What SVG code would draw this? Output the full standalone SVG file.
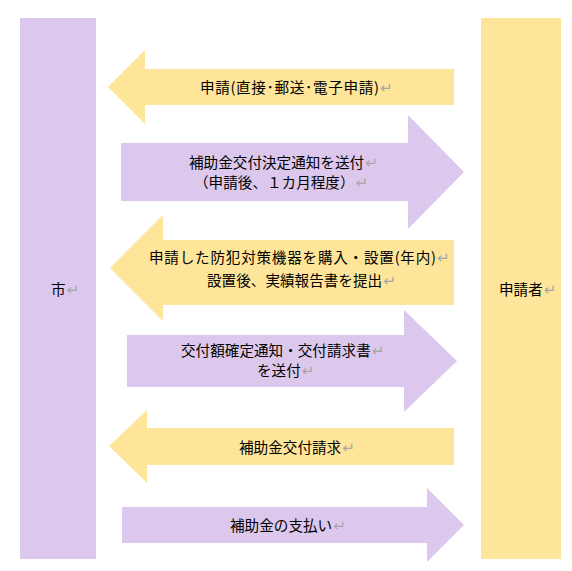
<svg xmlns="http://www.w3.org/2000/svg" width="572" height="571" viewBox="0 0 572 571">
<style>
.bg{fill:#ffffff}
.yel{fill:#fee599}
.pur{fill:#dcc8ec}
.t{font-family:"Noto Sans CJK JP","Noto Sans CJK SC",sans-serif;font-size:14.6px;fill:#000000}
.m{font-family:"DejaVu Sans",sans-serif;font-size:15px;fill:#a6a6a6}
</style>
<rect class="bg" x="0" y="0" width="572" height="571"/>
<g id="city">
<rect class="pur" x="20" y="18" width="76" height="541"/>
<text class="t" x="51" y="295">市<tspan class="m" dx="1">↵</tspan></text>
</g>
<g id="applicant">
<rect class="yel" x="481" y="18" width="80" height="541"/>
<text class="t" x="499" y="295">申請者<tspan class="m" dx="1">↵</tspan></text>
</g>
<g id="connectors">
<g id="arrow1">
<polygon class="yel" points="108,87 145,50 145,69 454,69 454,105 145,105 145,124"/>
<text class="t" x="200" y="92.5" textLength="179" lengthAdjust="spacing">申請(直接･郵送･電子申請)</text>
<text class="m" x="380" y="92.5">↵</text>
</g>
<g id="arrow2">
<polygon class="pur" points="121,143 408,143 408,115 464,172 408,229 408,201 121,201"/>
<text class="t" x="189" y="167.5">補助金交付決定通知を送付<tspan class="m" dx="1">↵</tspan></text>
<text class="t" x="194" y="187.5">（申請後、１カ月程度）<tspan class="m" dx="1">↵</tspan></text>
</g>
<g id="arrow3">
<polygon class="yel" points="110,268 163,215 163,240 454,240 454,305 163,305 163,321"/>
<text class="t" x="149" y="262.5" textLength="287" lengthAdjust="spacing">申請した防犯対策機器を購入・設置(年内)</text>
<text class="m" x="437" y="262.5">↵</text>
<text class="t" x="207" y="285.5">設置後、実績報告書を提出<tspan class="m" dx="1">↵</tspan></text>
</g>
<g id="arrow4">
<polygon class="pur" points="127,335 404,335 404,310 457,361 404,412 404,387 127,387"/>
<text class="t" x="181" y="356">交付額確定通知・交付請求書<tspan class="m" dx="1">↵</tspan></text>
<text class="t" x="257" y="375.5">を送付<tspan class="m" dx="1">↵</tspan></text>
</g>
<g id="arrow5">
<polygon class="yel" points="109,446 147,410 147,428 454,428 454,465 147,465 147,483"/>
<text class="t" x="239" y="452.5">補助金交付請求<tspan class="m" dx="1">↵</tspan></text>
</g>
<g id="arrow6">
<polygon class="pur" points="122,507 427,507 427,488 464,525 427,562 427,543 122,543"/>
<text class="t" x="230" y="531">補助金の支払い<tspan class="m" dx="1">↵</tspan></text>
</g>
</g>
</svg>
